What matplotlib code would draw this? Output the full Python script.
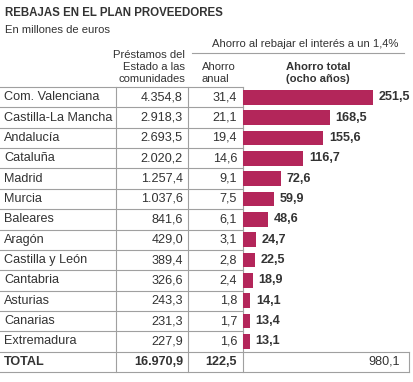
import matplotlib
matplotlib.use('Agg')
from matplotlib import pyplot as plt

plt.rcParams['font.family'] = ['Liberation Sans', 'DejaVu Sans']

# --- Datos ---------------------------------------------------------------------------------------
comunidades = ['Com. Valenciana', 'Castilla-La Mancha', 'Andalucía', 'Cataluña', 'Madrid', 'Murcia',
               'Baleares', 'Aragón', 'Castilla y León', 'Cantabria', 'Asturias', 'Canarias', 'Extremadura']
prestamos = ['4.354,8', '2.918,3', '2.693,5', '2.020,2', '1.257,4', '1.037,6', '841,6', '429,0',
             '389,4', '326,6', '243,3', '231,3', '227,9']
ahorro_anual = ['31,4', '21,1', '19,4', '14,6', '9,1', '7,5', '6,1', '3,1', '2,8', '2,4', '1,8', '1,7', '1,6']
ahorro_total = [251.5, 168.5, 155.6, 116.7, 72.6, 59.9, 48.6, 24.7, 22.5, 18.9, 14.1, 13.4, 13.1]
total_row = ['TOTAL', '16.970,9', '122,5', '980,1']

col_bar = '#b3265a'
col_txt = '#333333'
col_line = '#a0a0a0'
fs = 9.1      # tamaño de texto de la tabla
fs_h = 8.1    # tamaño de texto de encabezados

W, H = 414, 382
fig = plt.figure(figsize=(W / 100, H / 100), dpi=100)
ax = fig.add_axes([0, 0, 1, 1])
ax.set_xlim(0, W), ax.set_ylim(H, 0), ax.axis('off')

# --- Titulos -------------------------------------------------------------------------------------
ax.text(5, 13, 'REBAJAS EN EL PLAN PROVEEDORES', fontsize=8.3, fontweight='bold', color=col_txt, va='center')
ax.text(5, 30, 'En millones de euros', fontsize=fs_h, color=col_txt, va='center')
ax.text(305, 44, 'Ahorro al rebajar el interés a un 1,4%', fontsize=fs_h, color=col_txt, va='center', ha='center')
ax.plot([192, 404], [52.5, 52.5], color=col_line, lw=0.8)
ax.text(185, 67, 'Préstamos del\nEstado a las\ncomunidades', fontsize=fs_h, color=col_txt, ha='right', va='center',
        linespacing=1.25)
ax.text(202, 73.5, 'Ahorro\nanual', fontsize=fs_h, color=col_txt, ha='left', va='center', linespacing=1.25)
ax.text(318, 73.5, 'Ahorro total\n(ocho años)', fontsize=fs_h, fontweight='bold', color=col_txt, ha='center',
        va='center', linespacing=1.25)

# --- Tabla ---------------------------------------------------------------------------------------
top, rh = 87, 20.36
n = len(comunidades)
for i in range(n + 2):
    y = top + i * rh
    if i <= n:
        ax.plot([0, 243], [y, y], color=col_line, lw=0.8)
    else:
        ax.plot([0, 409], [y, y], color=col_line, lw=0.8)
ax.plot([243, 409], [top + n * rh] * 2, color=col_line, lw=0.8)
for x in [116, 188, 243]:
    ax.plot([x, x], [top, top + (n + 1) * rh], color=col_line, lw=0.8)
ax.plot([409, 409], [top + n * rh, top + (n + 1) * rh], color=col_line, lw=0.8)

for i in range(n):
    yc = top + (i + 0.5) * rh
    ax.text(4, yc, comunidades[i], fontsize=fs, color=col_txt, va='center')
    ax.text(183, yc, prestamos[i], fontsize=fs, color=col_txt, va='center', ha='right')
    ax.text(237, yc, ahorro_anual[i], fontsize=fs, color=col_txt, va='center', ha='right')

yc = top + (n + 0.5) * rh
ax.text(4, yc, total_row[0], fontsize=fs, fontweight='bold', color=col_txt, va='center')
ax.text(183, yc, total_row[1], fontsize=fs, fontweight='bold', color=col_txt, va='center', ha='right')
ax.text(237, yc, total_row[2], fontsize=fs, fontweight='bold', color=col_txt, va='center', ha='right')
ax.text(400, yc, total_row[3], fontsize=fs, color=col_txt, va='center', ha='right')

# --- Barras --------------------------------------------------------------------------------------
bx = fig.add_axes([243 / W, (H - (top + (n + 1) * rh)) / H, (409 - 243) / W, (n + 1) * rh / H])
bx.set_xlim(0, 166 / 0.517)
bx.set_ylim(n + 0.5, -0.5)
bx.axis('off')
bx.patch.set_alpha(0)
bars = bx.barh(range(n), ahorro_total, height=0.72, color=col_bar)
bx.bar_label(bars, labels=[f'{v:.1f}'.replace('.', ',') for v in ahorro_total], padding=4,
             fontsize=fs, fontweight='bold', color=col_txt)

fig.savefig('out.png', dpi=100)
